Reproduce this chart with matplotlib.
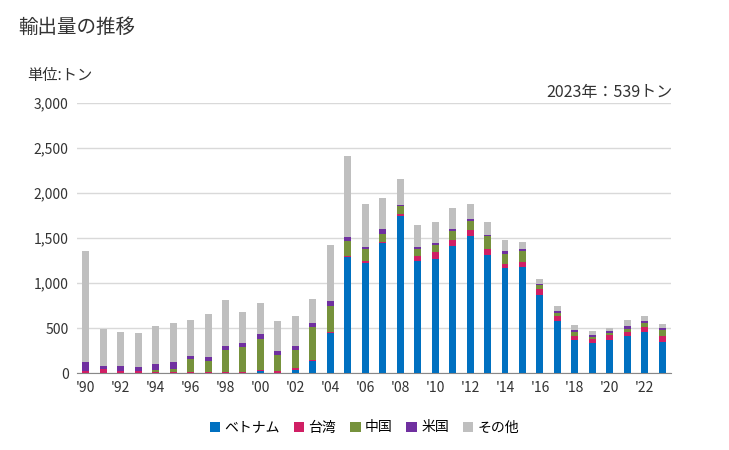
import numpy as np
import matplotlib
matplotlib.use("Agg")
import matplotlib.pyplot as plt

plt.rcParams["font.family"] = ["Noto Sans CJK JP", "DejaVu Sans"]

years = list(range(1990, 2024))
vietnam = [0, 0, 0, 0, 0, 0, 0, 0, 0, 0, 26, 0, 37, 130, 440, 1284, 1225, 1447, 1746, 1247,
           1269, 1413, 1524, 1314, 1169, 1180, 870, 581, 370, 337, 370, 414, 459, 348]
taiwan = [25, 40, 25, 25, 15, 15, 15, 15, 15, 15, 11, 26, 22, 11, 11, 18, 22, 11, 23, 55,
          78, 67, 67, 66, 45, 56, 66, 55, 44, 44, 56, 45, 55, 66]
china = [0, 0, 0, 0, 22, 33, 144, 122, 244, 277, 344, 178, 200, 370, 296, 167, 133, 89, 88, 78,
         78, 100, 100, 144, 111, 122, 44, 34, 45, 22, 22, 33, 45, 67]
usa = [100, 40, 55, 45, 67, 78, 33, 44, 44, 45, 56, 44, 44, 48, 56, 44, 22, 55, 12, 22,
       22, 22, 22, 11, 33, 22, 12, 22, 22, 23, 22, 33, 22, 22]
other = [1234, 410, 378, 378, 421, 433, 400, 478, 511, 344, 344, 333, 333, 266, 622, 899, 478,
         344, 288, 245, 233, 233, 167, 145, 122, 78, 55, 55, 56, 44, 33, 67, 55, 36]

series = [
    ("ベトナム", vietnam, "#0070C0"),
    ("台湾", taiwan, "#D01F64"),
    ("中国", china, "#76923C"),
    ("米国", usa, "#7030A0"),
    ("その他", other, "#BFBFBF"),
]

fig = plt.figure(figsize=(7.29, 4.5), dpi=100)
ax = fig.add_axes([0.1056, 0.1711, 0.8148, 0.6])

x = np.arange(len(years))
bottom = np.zeros(len(years))
for name, vals, color in series:
    vals = np.array(vals, dtype=float)
    ax.bar(x, vals, width=0.4, bottom=bottom, color=color, label=name, zorder=3)
    bottom += vals

ax.set_xlim(-0.5, len(years) - 0.5)
ax.set_ylim(0, 3000)
ax.set_yticks(range(0, 3001, 500))
ax.set_yticklabels([f"{v:,}" for v in range(0, 3001, 500)], fontsize=10, color="#333333")
ax.set_xticks(x[::2])
ax.set_xticklabels([f"'{y % 100:02d}" for y in years[::2]], fontsize=10, color="#333333")
ax.tick_params(length=0, pad=6)
ax.grid(axis="y", color="#D9D9D9", linewidth=1, zorder=0)
for side in ("top", "right", "left"):
    ax.spines[side].set_visible(False)
ax.spines["bottom"].set_color("#888888")

fig.text(0.025, 0.94, "輸出量の推移", fontsize=14, color="#333333", va="center")
fig.text(0.037, 0.833, "単位:トン", fontsize=11, color="#333333", va="center")
fig.text(0.922, 0.795, "2023年：539トン", fontsize=11.5, color="#333333", va="center", ha="right")

fig.legend(loc="center", bbox_to_anchor=(0.5, 0.05), ncol=5, frameon=False, fontsize=10,
           handlelength=0.75, handleheight=0.75, handletextpad=0.3, columnspacing=1.0)

fig.savefig("out.png", dpi=100)
